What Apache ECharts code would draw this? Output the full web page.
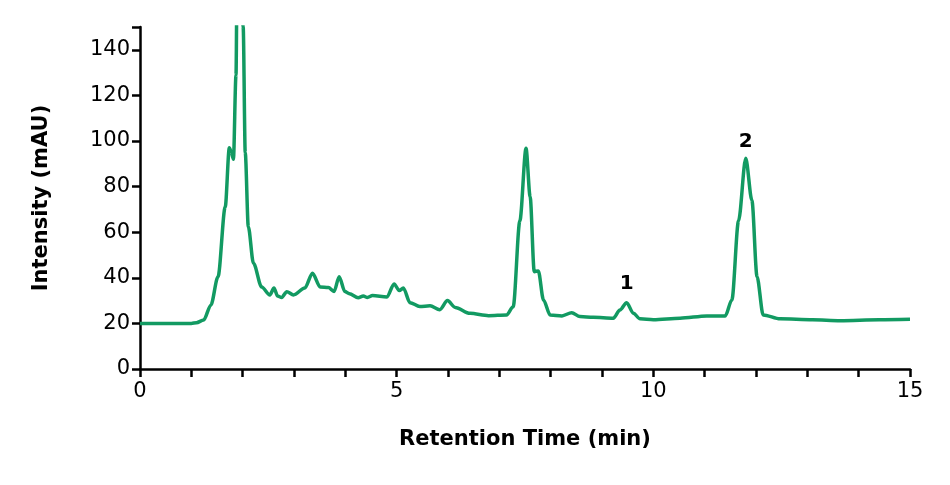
<!DOCTYPE html>
<html>
<head>
<meta charset="utf-8">
<script src="https://cdn.jsdelivr.net/npm/echarts@6/dist/echarts.min.js"></script>
<style>html,body{margin:0;padding:0;background:#fff}#chart{width:950px;height:485px}</style>
</head>
<body>
<div id="chart"></div>
<script>
var chart = echarts.init(document.getElementById('chart'));

// retention time (min) and intensity (mAU)
var timeMin = [0, 1.0, 1.1, 1.24, 1.38, 1.52, 1.66, 1.74, 1.78, 1.82, 1.87, 1.90, 1.96, 2.01, 2.05, 2.11, 2.21, 2.37, 2.53, 2.61, 2.68, 2.76, 2.86, 2.99, 3.21, 3.36, 3.51, 3.67, 3.78, 3.88, 3.99, 4.08, 4.25, 4.35, 4.43, 4.53, 4.81, 4.95, 5.05, 5.13, 5.26, 5.45, 5.65, 5.84, 5.99, 6.14, 6.43, 6.79, 7.14, 7.27, 7.40, 7.52, 7.60, 7.68, 7.76, 7.86, 7.99, 8.22, 8.41, 8.57, 8.83, 9.22, 9.35, 9.48, 9.61, 9.74, 10.0, 10.52, 11.04, 11.40, 11.53, 11.66, 11.80, 11.92, 12.02, 12.14, 12.47, 13.1, 13.64, 14.4, 15.0];
var intensity = [20, 20, 20.3, 21.5, 28, 40.5, 71, 97, 95, 92, 129, 200, 200, 150, 95, 62.4, 46.4, 36, 32.5, 35.5, 32, 31.4, 33.9, 32.5, 35.5, 42, 36, 35.7, 34, 40.5, 34, 33, 31.3, 32, 31.4, 32.2, 31.6, 37.3, 34.4, 35.5, 29.1, 27.4, 27.7, 26, 30, 27, 24.4, 23.4, 23.7, 27.3, 65, 96.8, 75.6, 42.7, 43, 30.3, 23.7, 23.3, 24.7, 23, 22.7, 22.3, 25.9, 29.1, 24.5, 22, 21.6, 22.3, 23.3, 23.3, 30.3, 65, 92.4, 74, 40.5, 23.7, 22, 21.6, 21.2, 21.6, 21.8];

// peak labels
var peakTime = [9.48, 11.80];
var peakLabelY = [31, 93];
var peakText = ['1', '2'];

var trace = timeMin.map(function (t, i) { return [t, intensity[i]]; });
var peaks = peakTime.map(function (t, i) { return { value: [t, peakLabelY[i]], name: peakText[i] }; });

var tickFont = { color: '#000', fontSize: 21, fontFamily: 'DejaVu Sans' };
var nameFont = { color: '#000', fontSize: 21, fontWeight: 'bold', fontFamily: 'DejaVu Sans' };
var axisPen = { color: '#000', width: 2.5 };

var option = {
    animation: false,
    grid: { left: 140, right: 40, top: 27, bottom: 116 },
    xAxis: {
        type: 'value',
        min: 0,
        max: 15,
        interval: 5,
        name: 'Retention Time (min)',
        nameLocation: 'middle',
        nameGap: 60,
        nameTextStyle: nameFont,
        axisLine: { lineStyle: axisPen },
        axisTick: { length: 8, lineStyle: axisPen },
        minorTick: { show: true, splitNumber: 5, length: 8, lineStyle: axisPen },
        splitLine: { show: false },
        axisLabel: Object.assign({ margin: 12 }, tickFont)
    },
    yAxis: {
        type: 'value',
        min: 0,
        max: 150,
        interval: 20,
        name: 'Intensity (mAU)',
        nameLocation: 'middle',
        nameGap: 88,
        nameTextStyle: nameFont,
        axisLine: { show: true, lineStyle: axisPen },
        axisTick: { show: true, length: 8, lineStyle: axisPen },
        splitLine: { show: false },
        axisLabel: Object.assign({
            margin: 10,
            formatter: function (v) { return v === 150 ? '' : v; }
        }, tickFont)
    },
    series: [
        {
            type: 'line',
            data: trace,
            symbol: 'none',
            smooth: 0.3,
            smoothMonotone: 'x',
            clip: true,
            lineStyle: { color: '#129a62', width: 3.5 }
        },
        {
            type: 'scatter',
            data: peaks,
            symbolSize: 0,
            itemStyle: { opacity: 1 },
            label: {
                show: true,
                position: 'top',
                formatter: '{b}',
                color: '#000',
                fontSize: 20,
                fontWeight: 'bold',
                fontFamily: 'DejaVu Sans'
            }
        }
    ]
};

chart.setOption(option);
</script>
</body>
</html>
